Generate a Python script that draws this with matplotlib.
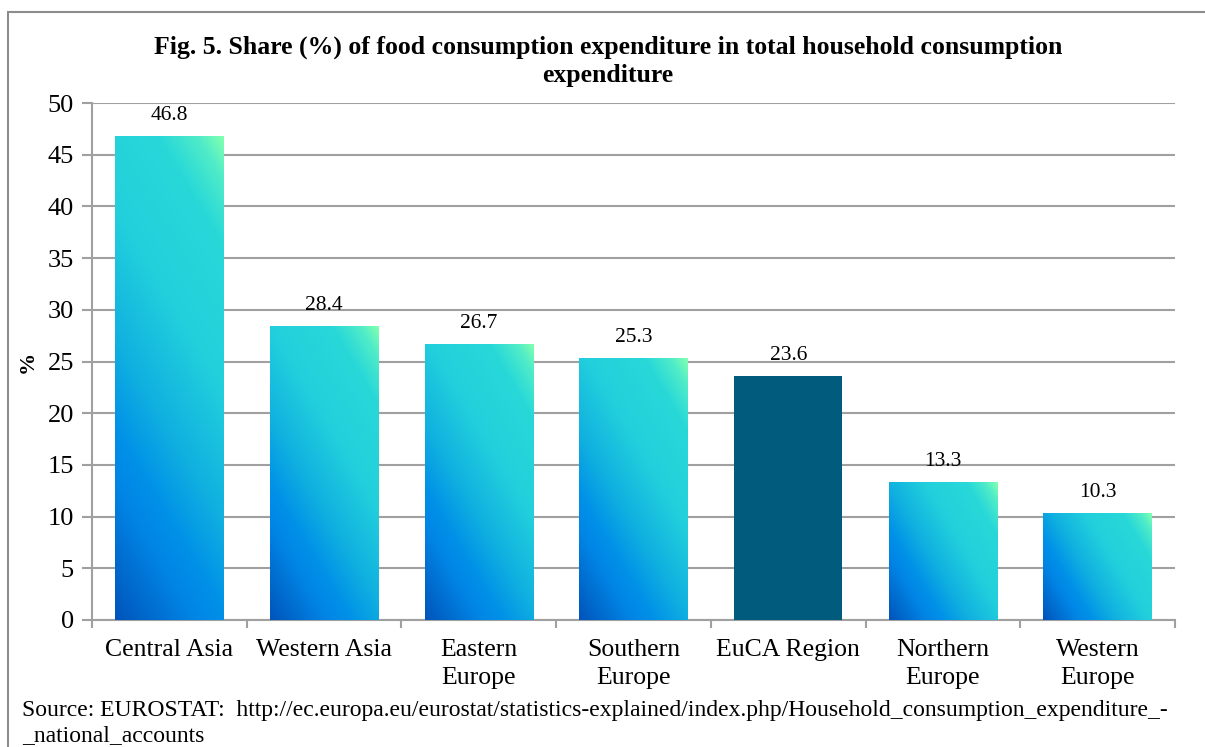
import matplotlib.pyplot as plt
import numpy as np
from matplotlib.colors import LinearSegmentedColormap
from matplotlib.patches import Rectangle

regions = ["Central Asia", "Western Asia", "Eastern\nEurope", "Southern\nEurope",
           "EuCA Region", "Northern\nEurope", "Western\nEurope"]
shares = [46.8, 28.4, 26.7, 25.3, 23.6, 13.3, 10.3]
highlight = "EuCA Region"

title = "Fig. 5. Share (%) of food consumption expenditure in total household consumption\nexpenditure"
source = ("Source: EUROSTAT:  http://ec.europa.eu/eurostat/statistics-explained/index.php/"
          "Household_consumption_expenditure_-\n_national_accounts")

plt.rcParams["font.family"] = ["Liberation Serif", "DejaVu Serif"]

# diagonal fill: dark blue bottom-left -> cyan -> pale green top-right
grad = LinearSegmentedColormap.from_list("bars", [
    (0.00, "#0055bb"),
    (0.20, "#0085e5"),
    (0.28, "#0090e8"),
    (0.42, "#10b0e0"),
    (0.62, "#22d0dc"),
    (0.84, "#28d8d8"),
    (0.94, "#50ecc8"),
    (1.00, "#80ffb0"),
])

W, H, DPI = 1205, 747, 100
fig = plt.figure(figsize=(W / DPI, H / DPI), dpi=DPI)
ax = fig.add_axes([92 / W, 1 - 620 / H, (1175 - 92) / W, (620 - 103) / H])

x = np.arange(len(regions))
bar_w = 0.7
ax.set_xlim(-0.5, len(regions) - 0.5)
ax.set_ylim(0, 50)

# pixels per data unit, used to keep the gradient angle close to 45 degrees
px_x = (1175 - 92) / len(regions)
px_y = (620 - 103) / 50

bars = ax.bar(x, shares, width=bar_w, color="none", zorder=3)
for bar, name, val in zip(bars, regions, shares):
    x0 = bar.get_x()
    if name == highlight:
        bar.set_facecolor("#005b7d")
    else:
        wpx = bar_w * px_x
        hpx = val * px_y
        wu = wpx / (wpx + 0.6 * hpx)
        u, v = np.meshgrid(np.linspace(0, 1, 60), np.linspace(0, 1, 200))
        t = wu * u + (1 - wu) * v
        im = ax.imshow(t, cmap=grad, vmin=0, vmax=1, origin="lower", aspect="auto",
                       extent=[x0, x0 + bar_w, 0, val], interpolation="bilinear", zorder=3)
        im.set_clip_path(bar)
    ax.annotate(f"{val:.1f}", (bar.get_x() + bar_w / 2, val), xytext=(0, 8),
                textcoords="offset points", ha="center", va="bottom", fontsize=15.5)

ax.set_xlim(-0.5, len(regions) - 0.5)
ax.set_ylim(0, 50)
ax.set_yticks(np.arange(0, 51, 5))
ax.yaxis.grid(True, color="#a0a0a0", linewidth=1.5, zorder=0)
ax.set_axisbelow(True)

ax.set_xticks(x)
ax.set_xticklabels(regions, fontsize=18.5, linespacing=1.32)
ax.set_xticks(np.arange(-0.5, len(regions)), minor=True)
ax.tick_params(axis="x", which="major", length=0, pad=14)
ax.tick_params(axis="x", which="minor", length=6, color="#a0a0a0", width=1.5)
ax.tick_params(axis="y", length=7, color="#a0a0a0", width=1.5, labelsize=19, pad=6)

for side in ["top", "right"]:
    ax.spines[side].set_visible(False)
for side in ["left", "bottom"]:
    ax.spines[side].set_color("#a0a0a0")
    ax.spines[side].set_linewidth(1.5)

fig.text(28 / W, 1 - 362 / H, "%", rotation=90, fontsize=16, fontweight="bold",
         ha="center", va="center")
fig.text(608 / W, 1 - 61 / H, title, fontsize=18.5, fontweight="bold",
         ha="center", va="center", linespacing=1.28)
fig.text(22 / W, 1 - 723 / H, source, fontsize=17, ha="left", va="center",
         linespacing=1.2)

# chart frame
fig.patches.append(Rectangle((8 / W, -0.01), 1.0, 1 - 12 / H + 0.01,
                             transform=fig.transFigure, fill=False,
                             edgecolor="#8c8c8c", linewidth=1.5))

fig.savefig("out.png", dpi=DPI)
